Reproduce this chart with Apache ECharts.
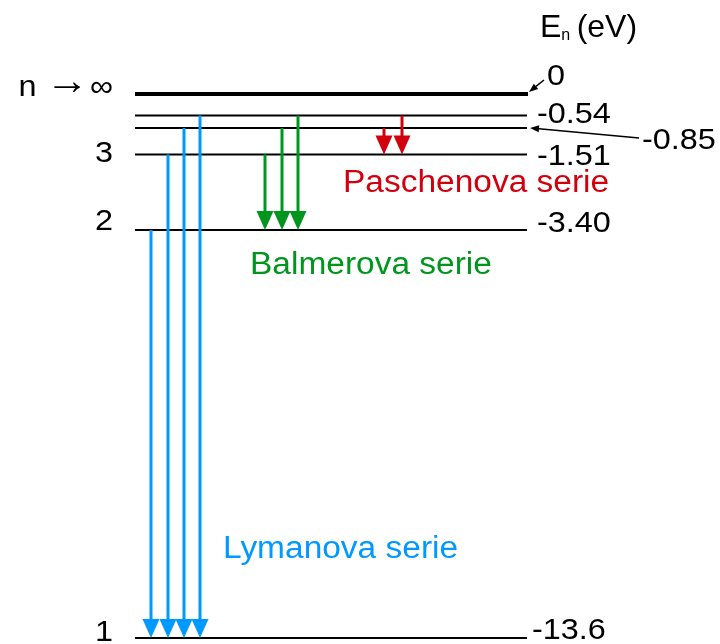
<!DOCTYPE html>
<html>
<head>
<meta charset="utf-8">
<script src="https://cdn.jsdelivr.net/npm/echarts@6/dist/echarts.min.js"></script>
<style>
  html, body { margin: 0; padding: 0; background: #fff; }
  #main { width: 720px; height: 644px; }
</style>
</head>
<body>
<div id="main"></div>
<script>
// energy levels of hydrogen (eV)
var levelEnergy = [0, -0.54, -0.85, -1.51, -3.40, -13.6];
var levelValueText = ['0', '-0.54', '-0.85', '-1.51', '-3.40', '-13.6'];
var levelNText = ['{t|n }{a|\u2192}{t|\u221e}', '', '', '3', '2', '1'];

// transitions: x position along the level line, start level, end level
var lymanX = [16, 33, 49, 65];
var lymanFrom = [-3.40, -1.51, -0.85, -0.54];
var balmerX = [130, 147, 163];
var balmerFrom = [-1.51, -0.85, -0.54];
var paschenX = [249, 267];
var paschenFrom = [-0.85, -0.54];

var seriesNames = ['Lymanova serie', 'Balmerova serie', 'Paschenova serie'];
var seriesColors = ['#0099ff', '#00961e', '#d2000f'];

var X_MAX = 392;
var FONT = '"Liberation Sans", Arial, sans-serif';

// label offsets (px) from the line ends
var valueOffset = [[20, -17], [10, -1], [115, 13], [10, 2], [10, -6], [5, -7]];
var nOffset = [-6, 0, 0, -1, -8, -5];

var chartDom = document.getElementById('main');
var myChart = echarts.init(chartDom);
var option;

function transitions(xs, from, to) {
  return xs.map(function (x, i) {
    return [x, from[i], to];
  });
}

function pointer(x1, y1, x2, y2) {
  var dx = x2 - x1, dy = y2 - y1;
  var len = Math.sqrt(dx * dx + dy * dy);
  var ux = dx / len, uy = dy / len;
  var hl = 9, hw = 3.5;
  var bx = x2 - ux * hl, by = y2 - uy * hl;
  return [
    { type: 'line', shape: { x1: x1, y1: y1, x2: bx, y2: by }, style: { stroke: '#000', lineWidth: 1.5 } },
    {
      type: 'polygon',
      shape: { points: [[x2, y2], [bx - uy * hw, by + ux * hw], [bx + uy * hw, by - ux * hw]] },
      style: { fill: '#000' }
    }
  ];
}

function renderLevel(params, api) {
  var i = params.dataIndex;
  var e = api.value(0);
  var a = api.coord([0, e]);
  var b = api.coord([X_MAX, e]);
  var children = [
    {
      type: 'line',
      shape: { x1: a[0], y1: a[1], x2: b[0] + (i === 0 ? 1 : 0), y2: b[1] },
      style: { stroke: '#000', lineWidth: i === 0 ? 4 : 2 }
    },
    {
      type: 'text',
      x: b[0] + valueOffset[i][0],
      y: b[1] + valueOffset[i][1],
      scaleX: 1.08,
      style: {
        text: levelValueText[i], font: '30px ' + FONT, fill: '#000',
        textAlign: 'left', textVerticalAlign: 'middle', align: 'left', verticalAlign: 'middle'
      }
    }
  ];
  if (levelNText[i]) {
    children.push({
      type: 'text',
      x: a[0] - 22,
      y: a[1] + nOffset[i],
      scaleX: 1.08,
      style: {
        text: levelNText[i], font: '30px ' + FONT, fill: '#000',
        textAlign: 'right', textVerticalAlign: 'middle', align: 'right', verticalAlign: 'middle',
        rich: {
          t: { fontFamily: FONT, fontSize: 30, fill: '#000', verticalAlign: 'middle' },
          a: { fontFamily: FONT, fontSize: 40, fill: '#000', verticalAlign: 'middle', padding: [0, 1, 10, 0] }
        }
      }
    });
  }
  if (i === 0) {
    children = children.concat(pointer(b[0] + 17, b[1] - 14, b[0] + 2, b[1] - 2));
  }
  if (i === 2) {
    children = children.concat(pointer(b[0] + 112, b[1] + 10, b[0] + 3, b[1]));
  }
  return { type: 'group', children: children };
}

function renderArrow(color) {
  return function (params, api) {
    var top = api.coord([api.value(0), api.value(1)]);
    var tip = api.coord([api.value(0), api.value(2)]);
    var hw = 8.5, hl = 19;
    return {
      type: 'group',
      children: [
        { type: 'line', shape: { x1: top[0], y1: top[1], x2: tip[0], y2: tip[1] - hl + 2 }, style: { stroke: color, lineWidth: 3 } },
        {
          type: 'polygon',
          shape: { points: [[tip[0] - hw, tip[1] - hl], [tip[0] + hw, tip[1] - hl], [tip[0], tip[1]]] },
          style: { fill: color }
        }
      ]
    };
  };
}

function seriesLabel(idx, left, cy) {
  return {
    type: 'text',
    x: left,
    y: cy,
    scaleX: 1.08,
    style: {
      text: seriesNames[idx], font: '31px ' + FONT, fill: seriesColors[idx],
      textAlign: 'left', textVerticalAlign: 'middle', align: 'left', verticalAlign: 'middle'
    }
  };
}

option = {
  animation: false,
  backgroundColor: '#fff',
  grid: { left: 135, top: 94, width: X_MAX, height: 544 },
  xAxis: { type: 'value', min: 0, max: X_MAX, show: false },
  yAxis: { type: 'value', min: -13.6, max: 0, show: false },
  graphic: [
    {
      type: 'text',
      x: 540,
      y: 28,
      style: {
        text: '{e|E}{n|n}{p|\u2009(eV)}',
        fill: '#000',
        align: 'left',
        verticalAlign: 'middle',
        rich: {
          e: { fontFamily: FONT, fontSize: 32, fill: '#000' },
          n: { fontFamily: FONT, fontSize: 16, fill: '#000', verticalAlign: 'bottom', padding: [14, 0, 0, 0] },
          p: { fontFamily: FONT, fontSize: 32, fill: '#000' }
        }
      }
    },
    seriesLabel(0, 223, 549),
    seriesLabel(1, 250, 265),
    seriesLabel(2, 343, 183)
  ],
  series: [
    {
      type: 'custom',
      name: 'levels',
      renderItem: renderLevel,
      data: levelEnergy.map(function (e) { return [e]; }),
      encode: { y: 0 }
    },
    {
      type: 'custom',
      name: seriesNames[0],
      renderItem: renderArrow(seriesColors[0]),
      data: transitions(lymanX, lymanFrom, -13.6),
      encode: { x: 0, y: [1, 2] }
    },
    {
      type: 'custom',
      name: seriesNames[1],
      renderItem: renderArrow(seriesColors[1]),
      data: transitions(balmerX, balmerFrom, -3.40),
      encode: { x: 0, y: [1, 2] }
    },
    {
      type: 'custom',
      name: seriesNames[2],
      renderItem: renderArrow(seriesColors[2]),
      data: transitions(paschenX, paschenFrom, -1.51),
      encode: { x: 0, y: [1, 2] }
    }
  ]
};

option && myChart.setOption(option);
</script>
</body>
</html>
